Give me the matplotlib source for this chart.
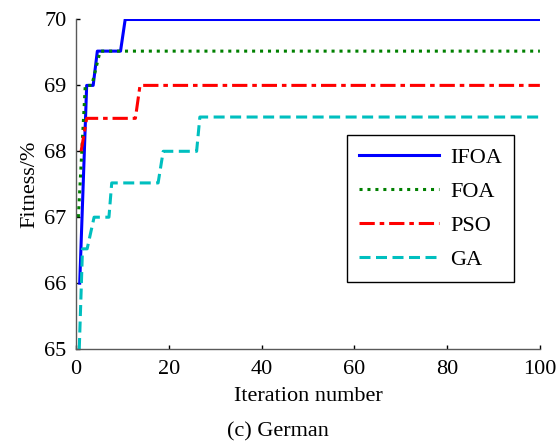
import matplotlib
matplotlib.use('Agg')
import matplotlib.pyplot as plt

# data start here
# breakpoints of each convergence curve (iteration, fitness in %)
ifoa_iter = [0.8, 2.3, 3.7, 4.6, 9.6, 10.6, 100]
ifoa_fit = [66.0, 69.0, 69.0, 69.52, 69.52, 70.0, 70.0]

foa_iter = [0.5, 2.0, 3.4, 5.2, 100]
foa_fit = [67.0, 69.0, 69.0, 69.52, 69.52]

pso_iter = [1.1, 2.3, 12.8, 13.8, 100]
pso_fit = [68.0, 68.5, 68.5, 69.0, 69.0]

ga_iter = [0.7, 1.4, 2.4, 3.9, 7.1, 7.7, 17.7, 18.8, 26.0, 26.7, 100]
ga_fit = [65.0, 66.52, 66.52, 67.0, 67.0, 67.52, 67.52, 68.0, 68.0, 68.52, 68.52]

labels = ['IFOA', 'FOA', 'PSO', 'GA']
x_ticks = [0, 20, 40, 60, 80, 100]
y_ticks = [65, 66, 67, 68, 69, 70]
# data end here

plt.rcParams['font.family'] = ['Liberation Serif', 'DejaVu Serif']

fig = plt.figure(figsize=(5.56, 4.41), dpi=100)
ax = fig.add_axes([0.1367, 0.2086, 0.8343, 0.7472])

lw = 2.2
ax.plot(ifoa_iter, ifoa_fit, color=(0, 0, 1), lw=lw, label=labels[0])
ax.plot(foa_iter, foa_fit, color=(0, 0.5, 0), lw=lw, ls=(0, (1, 1.6)),
        label=labels[1])
ax.plot(pso_iter, pso_fit, color=(1, 0, 0), lw=lw, ls=(0, (5, 1.6, 1.5, 1.6)),
        label=labels[2])
ax.plot(ga_iter, ga_fit, color=(0, 0.75, 0.75), lw=lw, ls=(0, (3.6, 1.8)),
        label=labels[3])

ax.set_xlim(0, 100)
ax.set_ylim(65, 70)
ax.set_xticks(x_ticks)
ax.set_yticks(y_ticks)

for side in ('top', 'right'):
    ax.spines[side].set_visible(False)
for side in ('left', 'bottom'):
    ax.spines[side].set_color('0.35')
    ax.spines[side].set_linewidth(1.0)

ax.tick_params(direction='in', length=3, width=1, colors='k',
               labelsize=16)
ax.tick_params(axis='y', pad=7)
ax.tick_params(axis='x', pad=8)

ax.set_xlabel('Iteration number', fontsize=16, labelpad=6)
ax.set_ylabel('Fitness/%', fontsize=16, labelpad=3)

leg = ax.legend(loc='upper left', bbox_to_anchor=(0.584, 0.649),
                fontsize=16, frameon=True, fancybox=False, framealpha=1,
                edgecolor='k', handlelength=3.6, handletextpad=0.5,
                labelspacing=0.6, borderpad=0.55, borderaxespad=0)
leg.get_frame().set_linewidth(1.0)

fig.text(0.5, 0.0, '(c) German', ha='center', va='bottom', fontsize=16)

fig.savefig('out.png', dpi=100)
